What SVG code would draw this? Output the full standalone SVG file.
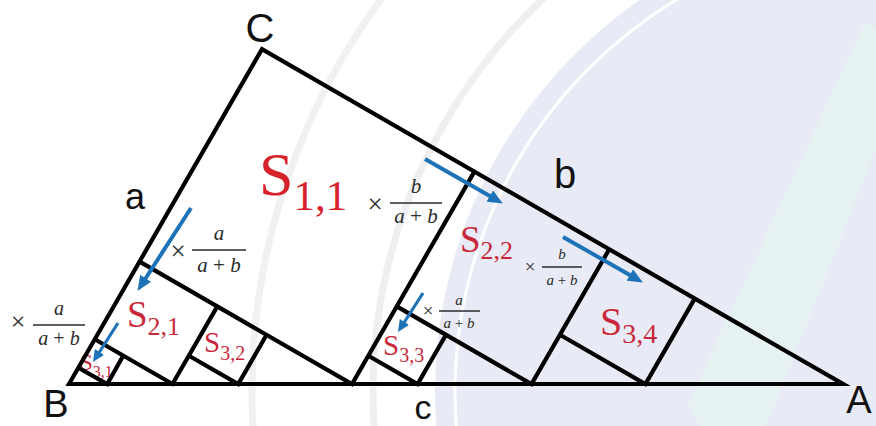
<svg xmlns="http://www.w3.org/2000/svg" width="876" height="426" viewBox="0 0 876 426">
  <style>
    .edge { fill: none; stroke: #000; stroke-width: 4.2; stroke-linejoin: miter; stroke-linecap: butt; }
    .vtx { font-family: "Liberation Sans", Arial, sans-serif; fill: #111; text-anchor: middle; }
    .lbl { font-family: "Liberation Serif", "Times New Roman", serif; fill: #c9283b; }
    .big { fill: #d6222a; }
    .frac { font-family: "Liberation Serif", "Times New Roman", serif; font-style: italic; fill: #2b2b2b; text-anchor: middle; }
    .times { font-family: "Liberation Serif", "Times New Roman", serif; fill: #2b2b2b; text-anchor: middle; }
    .bar { stroke: #2b2b2b; stroke-width: 1.3; }
    .arrow { fill: none; stroke: #1e73b8; stroke-width: 4; }
    .arrow-s { fill: none; stroke: #1e73b8; stroke-width: 3.2; }
  </style>
  <defs>
    <marker id="ah" markerUnits="userSpaceOnUse" markerWidth="15" markerHeight="13" viewBox="0 0 15 13" refX="8" refY="6.5" orient="auto">
      <path d="M0,0 L15,6.5 L0,13 z" fill="#1e73b8"/>
    </marker>
    <marker id="ahs" markerUnits="userSpaceOnUse" markerWidth="12" markerHeight="11" viewBox="0 0 12 11" refX="6" refY="5.5" orient="auto">
      <path d="M0,0 L12,5.5 L0,11 z" fill="#1e73b8"/>
    </marker>
  </defs>

  <g id="background">
    <rect x="0" y="0" width="876" height="426" fill="#ffffff"/>
    <circle cx="913" cy="392" r="478" fill="#e8ebf5"/>
    <circle cx="913" cy="392" r="458" fill="none" stroke="#ffffff" stroke-width="3"/>
    <circle cx="913" cy="392" r="540" fill="none" stroke="#ebebef" stroke-width="7" opacity="0.8"/>
    <circle cx="913" cy="392" r="661" fill="none" stroke="#ededf0" stroke-width="7" opacity="0.8"/>
    <polygon points="864,24 876,26 876,150 766,426 700,426 688,404" fill="#e5f3f1" opacity="0.8"/>
  </g>

  <g id="red-labels">
    <g id="label-S11">
      <text class="lbl big" x="259" y="195" font-size="62">S<tspan font-size="43" dy="15">1,1</tspan></text>
    </g>
    <g id="label-S21">
      <text class="lbl" x="127" y="327" font-size="37">S<tspan font-size="26" dy="8">2,1</tspan></text>
    </g>
    <g id="label-S22">
      <text class="lbl" x="460" y="252" font-size="37">S<tspan font-size="26" dy="7">2,2</tspan></text>
    </g>
    <g id="label-S31">
      <text class="lbl" x="80" y="370" font-size="23" fill="#b8325f">S<tspan font-size="16" dy="7">3,1</tspan></text>
    </g>
    <g id="label-S32">
      <text class="lbl" x="204" y="352" font-size="29">S<tspan font-size="20" dy="8">3,2</tspan></text>
    </g>
    <g id="label-S33">
      <text class="lbl" x="383" y="355" font-size="29">S<tspan font-size="20" dy="7">3,3</tspan></text>
    </g>
    <g id="label-S34">
      <text class="lbl" x="600" y="335" font-size="40">S<tspan font-size="28" dy="8">3,4</tspan></text>
    </g>
  </g>

  <g id="triangle">
    <polygon class="edge" points="69,384 262,49.1 843,384"/>
  </g>
  <g id="square-S11">
    <polyline class="edge" points="139.6,261.6 352,384.1 474.4,171.6"/>
  </g>
  <g id="square-S21">
    <polyline class="edge" points="94.8,339.3 172.5,384 217.3,306.4"/>
  </g>
  <g id="square-S22">
    <polyline class="edge" points="396.7,306.4 531.5,384.1 609.2,249.3"/>
  </g>
  <g id="square-S31">
    <polyline class="edge" points="78.4,367.7 107.2,384.1 123.2,355.7"/>
  </g>
  <g id="square-S32">
    <polyline class="edge" points="188.9,355.7 238.2,384.1 266.6,334.8"/>
  </g>
  <g id="square-S33">
    <polyline class="edge" points="368.3,355.7 417.6,384.1 446,334.8"/>
  </g>
  <g id="square-S34">
    <polyline class="edge" points="559.9,334.8 645.4,384.1 694.7,298.6"/>
  </g>

  <g id="vertex-labels">
    <text class="vtx" x="260" y="42" font-size="40">C</text>
    <text class="vtx" x="135" y="209" font-size="36">a</text>
    <text class="vtx" x="565" y="188" font-size="40">b</text>
    <text class="vtx" x="56" y="417" font-size="38">B</text>
    <text class="vtx" x="423" y="419" font-size="34">c</text>
    <text class="vtx" x="859" y="413" font-size="38">A</text>
  </g>

  <g id="connectors">
    <line class="arrow" x1="191" y1="208" x2="141.3" y2="285" marker-end="url(#ah)"/>
    <line class="arrow-s" x1="118" y1="323" x2="96.2" y2="357" marker-end="url(#ahs)"/>
    <line class="arrow" x1="425" y1="159" x2="496.8" y2="200" marker-end="url(#ah)"/>
    <line class="arrow" x1="563" y1="237" x2="636.8" y2="279" marker-end="url(#ah)"/>
    <line class="arrow-s" x1="423" y1="293" x2="401.2" y2="327" marker-end="url(#ahs)"/>
  </g>

  <g id="factors">
    <g id="factor-b-1">
      <text class="times" x="375" y="212.5" font-size="27">×</text>
      <line class="bar" x1="390" y1="203" x2="442" y2="203"/>
      <text class="frac" x="416" y="193" font-size="21">b</text>
      <text class="frac" x="416" y="223" font-size="21">a <tspan font-style="normal">+</tspan> b</text>
    </g>
    <g id="factor-a-1">
      <text class="times" x="178" y="259.5" font-size="27">×</text>
      <line class="bar" x1="192" y1="250" x2="246" y2="250"/>
      <text class="frac" x="219" y="240" font-size="21">a</text>
      <text class="frac" x="219" y="272" font-size="21">a <tspan font-style="normal">+</tspan> b</text>
    </g>
    <g id="factor-a-2">
      <text class="times" x="18" y="330" font-size="26">×</text>
      <line class="bar" x1="33" y1="325" x2="85" y2="325"/>
      <text class="frac" x="59" y="315" font-size="20">a</text>
      <text class="frac" x="59" y="345" font-size="20">a <tspan font-style="normal">+</tspan> b</text>
    </g>
    <g id="factor-b-2">
      <text class="times" x="530" y="273" font-size="19">×</text>
      <line class="bar" x1="542" y1="267" x2="582" y2="267" stroke-width="1"/>
      <text class="frac" x="562" y="259" font-size="15">b</text>
      <text class="frac" x="562" y="285" font-size="15">a <tspan font-style="normal">+</tspan> b</text>
    </g>
    <g id="factor-a-3">
      <text class="times" x="428" y="317" font-size="19">×</text>
      <line class="bar" x1="439" y1="311" x2="480" y2="311" stroke-width="1"/>
      <text class="frac" x="459" y="305" font-size="15">a</text>
      <text class="frac" x="459" y="328" font-size="15">a <tspan font-style="normal">+</tspan> b</text>
    </g>
  </g>
</svg>
